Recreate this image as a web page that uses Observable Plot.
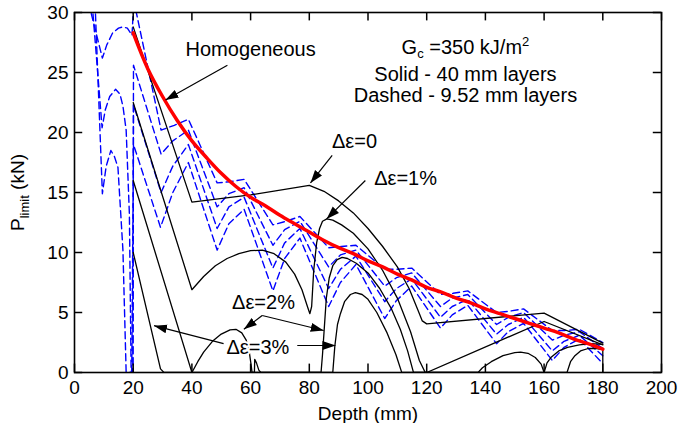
<!DOCTYPE html>
<html><head><meta charset="utf-8">
<script src="https://cdn.jsdelivr.net/npm/d3@7"></script>
<script src="https://cdn.jsdelivr.net/npm/@observablehq/plot@0.6"></script>
<style>html,body{margin:0;padding:0;background:#fff;}</style>
</head><body><div id="chart"></div>
<script>
const xTicks = [0,20,40,60,80,100,120,140,160,180,200];
const yTicks = [0,5,10,15,20,25,30];

const homogeneous = [[20,28.3],[25,25.3],[30,23.0],[35,21.0],[40,19.3],[45,17.9],[50,16.6],[55,15.5],[60,14.6],[65,13.9],[70,13.1],[75,12.4],[80,11.7],[85,11.0],[90,10.4],[95,9.9],[100,9.3],[105,8.8],[110,8.2],[115,7.7],[120,7.1],[125,6.7],[130,6.2],[135,5.8],[140,5.3],[145,4.9],[150,4.5],[155,4.1],[160,3.7],[165,3.3],[170,2.8],[175,2.4],[180,1.95]];

// solid: 40 mm layers
const solid0 = [[20,28.8],[40,14.2],[60,14.8],[80,15.6],[85,15.1],[90,14.3],[95,13.3],[100,12.0],[105,10.5],[110,8.8],[114,7.0],[117,5.2],[118.5,4.3],[120,4.05],[160,4.95],[180,2.45]];
const solid1 = [[20,22.5],[40,6.9],[44,8.0],[48,8.9],[52,9.5],[56,9.9],[60,10.15],[64,10.2],[68,9.9],[72,9.2],[75,8.2],[77.5,6.9],[79.5,5.4],[80.2,4.9],[80.8,5.5],[81.5,8.5],[82.5,10.8],[83.5,12.0],[84.5,12.6],[86,12.8],[88,12.7],[91,12.3],[95,11.6],[100,10.3],[105,8.5],[110,6.2],[114.5,3.4],[117.5,1.0],[119.5,0],[120,0],[160,4.25],[180,2.3]];
const solid2 = [[20,16],[40,0],[42,0.9],[44,1.7],[47,2.6],[50,3.2],[53,3.55],[55,3.6],[57,3.3],[58.5,2.7],[59.5,1.8],[60.2,0.6],[60.5,0],[84,0],[84.5,1.5],[85,3.3],[85.8,6.2],[86.8,7.9],[88,8.9],[89.5,9.4],[91.2,9.6],[93,9.5],[96,9.1],[100,8.3],[104,7.0],[108,5.3],[111,3.6],[113.5,1.8],[115.5,0],[137.5,0],[139,0.4],[142,0.9],[146,1.4],[150,1.65],[152,1.7],[154.5,1.6],[157,1.25],[159,0.7],[160,0],[161,0.8],[162.5,1.3],[165,1.8],[168,2.1],[172,2.3],[176,2.4],[180,2.35]];
const solid3 = [[20,10],[29.3,0.3],[30.5,0],[61.3,0],[61.4,1.1],[62,0.8],[62.8,0.2],[63.5,0],[88,0],[88.7,2.2],[89.6,4],[90.6,4.9],[92,5.9],[94,6.5],[95.7,6.65],[98,6.5],[100,6.1],[103,5.0],[106.5,3.3],[109.5,1.5],[111.5,0],[167.8,0],[169,0.9],[170.5,1.4],[172.4,1.8],[175,2.0],[178,2.0],[180,1.9],[180,0]];

// dashed: 9.52 mm layers
const dashed0 = [[4.8,30.8],[9.5,26.2],[11,27.3],[13,28.3],[15,28.7],[16.5,28.8],[18,28.7],[19.6,28.1],[20.2,31],[29.5,20.2],[34,20.6],[38.8,21.1],[48.6,15.8],[53,15.9],[57.8,16.1],[67.6,12.3],[72,12.6],[76.8,13.0],[86.6,10.4],[91,10.5],[95.9,10.6],[105.7,8.6],[110,8.6],[114.9,8.7],[124.7,6.5],[129,6.6],[134,6.8],[143.8,5.0],[148,5.1],[153,5.3],[162.8,3.5],[167,3.5],[172,3.6],[180,2.5]];
const dashed1 = [[6.0,30.8],[9.4,20.4],[10.5,21.9],[12,23.0],[14,23.6],[15.5,23.2],[16.5,22.2],[17.6,20.2],[18.7,13.2],[19.3,0],[19.9,0],[20.1,25.6],[29.5,18.2],[33.5,19.3],[38.8,20.2],[48.6,13.8],[52.6,14.9],[57.8,15.4],[67.6,10.6],[71.6,11.9],[76.8,12.6],[86.6,8.8],[90.6,9.8],[95.9,10.2],[105.7,7.2],[109.7,7.9],[114.9,8.3],[124.7,5.5],[128.7,6.2],[134,6.5],[143.8,4.0],[147.8,4.6],[153,5.0],[162.8,2.7],[166.8,3.1],[172,3.4],[180,2.0]];
const dashed2 = [[7.0,30.8],[9.5,14.9],[10.8,17.2],[12.4,18.5],[13.6,18.0],[14.8,17.1],[16.5,10.2],[17.6,0],[19.9,0],[20.1,22.3],[29.5,15.0],[33.5,17.2],[38.8,19.0],[48.6,12.0],[52.6,13.8],[57.8,14.6],[67.6,8.7],[71.6,10.8],[76.8,12.0],[86.6,7.0],[90.6,8.6],[95.9,9.7],[105.7,5.9],[109.7,7.0],[114.9,7.8],[124.7,4.6],[128.7,5.5],[134,6.1],[143.8,3.2],[147.8,4.0],[153,4.6],[162.8,1.8],[166.8,2.6],[172,3.1],[180,1.4]];
const dashed3 = [[19.5,0],[20.1,19.0],[29.3,12.1],[33.5,15.0],[38.8,17.5],[48.6,10.2],[52.6,12.4],[57.8,13.6],[67.6,6.8],[71.6,9.5],[76.8,11.2],[86.6,5.5],[90.6,7.5],[95.9,9.0],[105.7,4.5],[109.7,6.0],[114.9,7.2],[124.7,3.7],[128.7,4.8],[134,5.6],[143.8,2.4],[147.8,3.4],[153,4.1],[162.8,1.0],[166.8,2.1],[172,2.8],[180,0.75]];

// annotations (text, x, y in data units)
const labels = [
  {text: "Homogeneous", x: 60, y: 26.9},
  {text: "Gc =350 kJ/m2", x: 133.2, y: 27.1},
  {text: "Solid - 40 mm layers", x: 133.2, y: 24.85},
  {text: "Dashed - 9.52 mm layers", x: 133.2, y: 23.05},
  {text: "Δε=0", x: 95.4, y: 19.25},
  {text: "Δε=1%", x: 112.8, y: 16.2},
  {text: "Δε=2%", x: 64.4, y: 5.85},
  {text: "Δε=3%", x: 62.5, y: 2.1}
];
const arrows = [
  {x1: 52.1, y1: 25.6, x2: 31.0, y2: 22.7},
  {x1: 87.8, y1: 18.1, x2: 80.4, y2: 15.8},
  {x1: 99.1, y1: 16.0, x2: 85.9, y2: 12.8},
  {x1: 63.95, y1: 4.75, x2: 57.7, y2: 3.6},
  {x1: 63.95, y1: 4.75, x2: 84.9, y2: 3.5},
  {x1: 50.8, y1: 2.4, x2: 27.1, y2: 3.9},
  {x1: 75.9, y1: 2.25, x2: 88.9, y2: 2.25}
];

const X = d => d[0], Y = d => d[1];
const dashStyle = {x: X, y: Y, stroke: "#0000ff", strokeWidth: 1.4, strokeDasharray: "7,4", clip: true};
const solidStyle = {x: X, y: Y, stroke: "black", strokeWidth: 1.3, clip: true};

const plot = Plot.plot({
  width: 679, height: 423,
  marginLeft: 74, marginRight: 18, marginTop: 12, marginBottom: 51,
  style: {fontFamily: "'Liberation Sans', Arial, Helvetica, sans-serif", fontSize: "19px", background: "white", color: "black"},
  x: {domain: [0, 200], ticks: xTicks, tickSize: 0, tickPadding: 8, label: "Depth (mm)", labelAnchor: "center", labelOffset: 47, labelArrow: "none"},
  y: {domain: [0, 30], ticks: yTicks, tickSize: 0, tickPadding: 6, label: "Plimit (kN)", labelAnchor: "center", labelOffset: 64, labelArrow: "none"},
  marks: [
    Plot.line(dashed0, dashStyle),
    Plot.line(dashed1, dashStyle),
    Plot.line(dashed2, dashStyle),
    Plot.line(dashed3, dashStyle),
    Plot.line(solid0, solidStyle),
    Plot.line(solid1, solidStyle),
    Plot.line(solid2, solidStyle),
    Plot.line(solid3, solidStyle),
    Plot.line(homogeneous, {x: X, y: Y, stroke: "#ff0000", strokeWidth: 3.5, curve: "catmull-rom"}),
    Plot.ruleX(xTicks, {x: d => d, y1: 0, y2: 0.7, strokeWidth: 1.5}),
    Plot.ruleX(xTicks, {x: d => d, y1: 29.3, y2: 30, strokeWidth: 1.5}),
    Plot.ruleY(yTicks, {y: d => d, x1: 0, x2: 2.8, strokeWidth: 1.5}),
    Plot.ruleY(yTicks, {y: d => d, x1: 197.2, x2: 200, strokeWidth: 1.5}),
    Plot.frame({strokeWidth: 1.6}),
    Plot.link(arrows, {x1: "x1", y1: "y1", x2: "x2", y2: "y2", stroke: "black", strokeWidth: 1.2, markerEnd: "arrow"}),
    Plot.text(labels, {x: "x", y: "y", text: "text", fontSize: 20, fill: "black", stroke: "white", strokeWidth: 4})
  ]
});

plot.querySelectorAll("marker").forEach(m => {
  m.setAttribute("viewBox", "-10 -5 10 10");
  m.setAttribute("markerUnits", "userSpaceOnUse");
  m.setAttribute("markerWidth", "13");
  m.setAttribute("markerHeight", "13");
  m.setAttribute("fill", "black");
  m.setAttribute("stroke", "none");
  const p = m.querySelector("path");
  if (p) p.setAttribute("d", "M-10,-3.4L0,0L-10,3.4Z");
});
plot.querySelectorAll("text").forEach(t => {
  const s = t.textContent;
  if (s.includes("Plimit")) {
    t.innerHTML = 'P<tspan dy="5" font-size="13">limit</tspan><tspan dy="-5"> (kN)</tspan>';
  } else if (s === "Gc =350 kJ/m2") {
    t.innerHTML = 'G<tspan dy="4" font-size="13">c</tspan><tspan dy="-4"> =350 kJ/m</tspan><tspan dy="-8" font-size="13">2</tspan>';
  }
});
document.getElementById("chart").appendChild(plot);
</script>
</body></html>
